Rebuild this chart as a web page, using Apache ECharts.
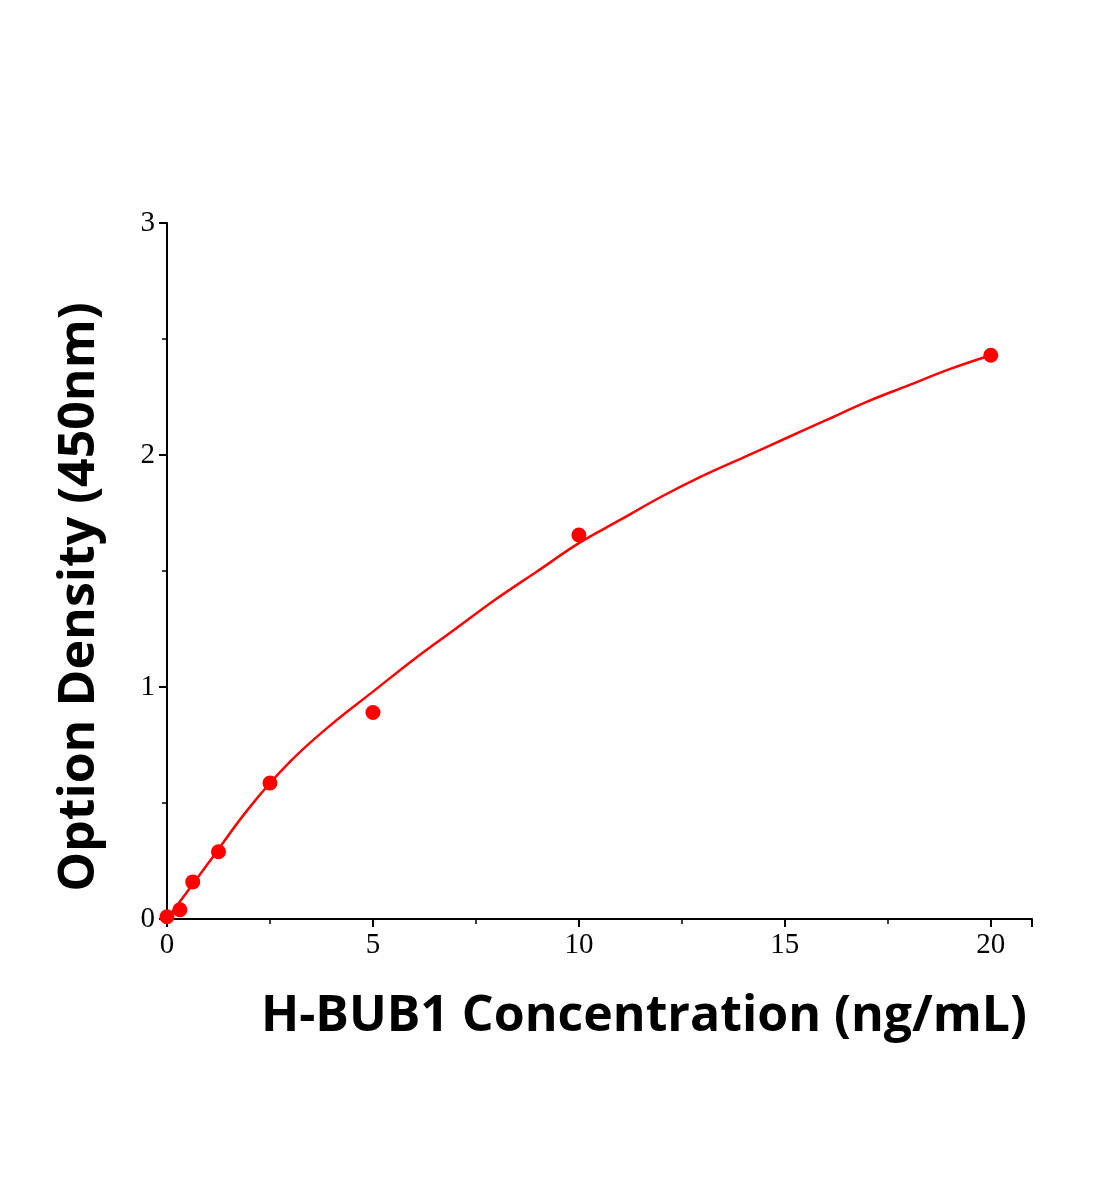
<!DOCTYPE html>
<html><head><meta charset="utf-8">
<script src="https://cdn.jsdelivr.net/npm/echarts@6/dist/echarts.min.js"></script>
<style>html,body{margin:0;background:#fff}#c{width:1104px;height:1200px}</style>
</head><body><div id="c"></div>
<script>
const pointX = [0, 0.3125, 0.625, 1.25, 2.5, 5, 10, 20];
const pointY = [0.01, 0.04, 0.16, 0.29, 0.586, 0.89, 1.655, 2.43];
const curveX = [0, 1, 2, 3, 4, 5, 6, 7, 8, 9, 10, 11, 12, 13, 14, 15, 16, 17, 18, 19, 20];
const curveY = [0, 0.24, 0.48, 0.68, 0.84, 0.98, 1.12, 1.25, 1.38, 1.50, 1.62, 1.72, 1.82, 1.91, 1.99, 2.07, 2.15, 2.23, 2.30, 2.37, 2.43];
const xTitle = 'H-BUB1 Concentration (ng/mL)';
const yTitle = 'Option Density (450nm)';
const chart = echarts.init(document.getElementById('c'));
const axisCommon = {
  axisLine:{show:true,lineStyle:{color:'#000',width:2}},
  axisTick:{show:true,inside:false,length:8,lineStyle:{color:'#000',width:2}},
  minorTick:{show:true,splitNumber:2,length:5,lineStyle:{color:'#000',width:1.5}},
  splitLine:{show:false},
  axisLabel:{color:'#000',fontFamily:'Liberation Serif',fontSize:29,margin:12}
};
chart.setOption({
  animation:false,
  grid:{left:167,top:223,right:72,bottom:281},
  xAxis:Object.assign({type:'value',min:0,max:21,interval:5,
    axisLabel:Object.assign({},axisCommon.axisLabel,{showMaxLabel:false})},
    {axisLine:axisCommon.axisLine,axisTick:axisCommon.axisTick,minorTick:axisCommon.minorTick,splitLine:axisCommon.splitLine}),
  yAxis:Object.assign({type:'value',min:0,max:3,interval:1},axisCommon),
  graphic:[
    {type:'text',right:77,top:992,style:{text:xTitle,font:'bold 50px "Open Sans", "DejaVu Sans", sans-serif',fill:'#000'}},
    {type:'text',x:80,y:597,rotation:Math.PI/2,style:{text:yTitle,font:'bold 50px "Open Sans", "DejaVu Sans", sans-serif',fill:'#000',align:'center',verticalAlign:'middle'}}
  ],
  series:[
    {type:'line',data:curveX.map((x,i)=>[x,curveY[i]]),smooth:0.4,showSymbol:false,lineStyle:{color:'#ff0000',width:2.5}},
    {type:'scatter',data:pointX.map((x,i)=>[x,pointY[i]]),symbolSize:15,itemStyle:{color:'#ff0000',opacity:1}}
  ]
});
</script></body></html>
